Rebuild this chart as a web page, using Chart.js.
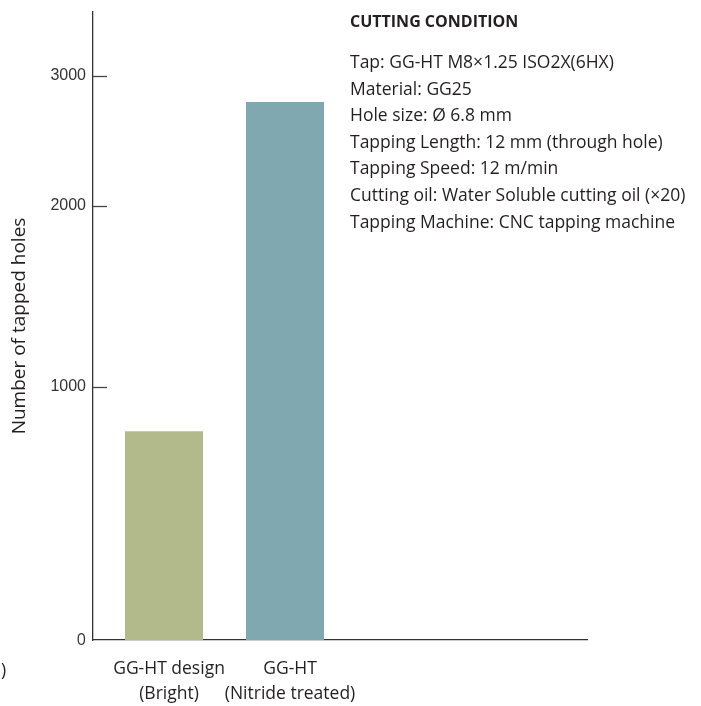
<!DOCTYPE html>
<html>
<head>
<meta charset="utf-8">
<script src="https://cdn.jsdelivr.net/npm/chart.js@4.4.1/dist/chart.umd.min.js"></script>
<style>
  html, body { margin: 0; padding: 0; background: #fff; }
  #wrap { position: relative; width: 701px; height: 706px; }
</style>
</head>
<body>
<div id="wrap"><canvas id="chart" width="701" height="706"></canvas></div>
<script>
// Tool life comparison — number of tapped holes per tap type
var categories = [['GG-HT design', '(Bright)'], ['GG-HT', '(Nitride treated)']];
var holes      = [800, 2770];
var barColors  = ['#b2ba8b', '#7fa8b1'];
var yTicks     = [0, 1000, 2000, 3000];
var yTitle     = 'Number of tapped holes';

var conditionTitle = 'CUTTING CONDITION';
var conditions = [
    'Tap: GG-HT M8\u00d71.25 ISO2X(6HX)',
    'Material: GG25',
    'Hole size: \u00d8 6.8 mm',
    'Tapping Length: 12 mm (through hole)',
    'Tapping Speed: 12 m/min',
    'Cutting oil: Water Soluble cutting oil (\u00d720)',
    'Tapping Machine: CNC tapping machine'
];

var TEXT = '#231f20';
var FONT = '"Open Sans", "Noto Sans", sans-serif';

// L'axe d'origine se tasse vers le haut : chaque pas de 1000 vaut ~0.72x le précédent
var TAU = 3000;

class CompressedScale extends Chart.LinearScale {
    _t(v) { return 1 - Math.exp(-v / TAU); }
    getPixelForValue(value) {
        var lo = this._t(this.min), hi = this._t(this.max);
        return this.getPixelForDecimal((this._t(value) - lo) / (hi - lo));
    }
    getValueForPixel(pixel) {
        var lo = this._t(this.min), hi = this._t(this.max);
        var t = lo + this.getDecimalForPixel(pixel) * (hi - lo);
        return -TAU * Math.log(1 - t);
    }
}
CompressedScale.id = 'compressed';
CompressedScale.defaults = Chart.LinearScale.defaults;
Chart.register(CompressedScale);

// Petits traits de graduation vers l'intérieur + bloc des conditions de coupe
var annotations = {
    id: 'annotations',
    afterDraw: function (chart) {
        var ctx  = chart.ctx;
        var area = chart.chartArea;
        var y    = chart.scales.y;
        ctx.save();

        ctx.strokeStyle = '#444';
        ctx.lineWidth = 1.3;
        y.ticks.forEach(function (t, i) {
            if (t.value === 0) return;
            var py = Math.round(y.getPixelForTick(i)) + 0.5;
            ctx.beginPath();
            ctx.moveTo(area.left, py);
            ctx.lineTo(area.left + 14, py);
            ctx.stroke();
        });

        ctx.fillStyle = TEXT;
        ctx.textAlign = 'left';
        ctx.textBaseline = 'alphabetic';
        var x = area.left + 257;
        ctx.font = 'bold 16px ' + FONT;
        ctx.fillText(conditionTitle, x, area.top + 15);
        ctx.font = '17.5px ' + FONT;
        conditions.forEach(function (line, i) {
            ctx.fillText(line, x, area.top + 56 + i * 26.6);
        });

        // fragment de libellé coupé au bord gauche
        ctx.fillText(')', 1, 676);
        ctx.restore();
    }
};

new Chart(document.getElementById('chart'), {
    type: 'bar',
    data: {
        datasets: [{
            data: holes.map(function (h, i) { return { x: i + 1, y: h }; }),
            backgroundColor: barColors,
            borderWidth: 0,
            categoryPercentage: 1,
            barPercentage: 0.645
        }]
    },
    options: {
        responsive: false,
        devicePixelRatio: 1,
        animation: false,
        layout: { padding: { top: 12, right: 114, bottom: 0, left: 0 } },
        plugins: {
            legend: { display: false },
            tooltip: { enabled: false }
        },
        scales: {
            x: {
                type: 'linear',
                offset: false,
                min: 0.413,
                max: 4.496,
                afterBuildTicks: function (s) {
                    s.ticks = categories.map(function (c, i) { return { value: i + 1 }; });
                },
                afterFit: function (s) {
                    s.height = 66;
                    s.paddingLeft = 0;
                    s.paddingRight = 0;
                },
                grid: { display: false, drawTicks: false, offset: false },
                border: { display: true, color: '#333', width: 1.3 },
                ticks: {
                    autoSkip: false,
                    maxRotation: 0,
                    padding: 16,
                    labelOffset: 5,
                    color: TEXT,
                    font: { family: FONT, size: 17.5, lineHeight: 1.45 },
                    callback: function (v) { return categories[v - 1]; }
                }
            },
            y: {
                type: 'compressed',
                min: 0,
                max: 3650,
                afterBuildTicks: function (s) {
                    s.ticks = yTicks.map(function (v) { return { value: v }; });
                },
                afterFit: function (s) {
                    s.width = 93;
                    s.paddingTop = 0;
                    s.paddingBottom = 0;
                },
                grid: { display: false, drawTicks: false },
                border: { display: true, color: '#333', width: 1.3 },
                ticks: {
                    padding: 7,
                    color: '#333',
                    font: function (c) {
                        return (c.tick && c.tick.value === 0)
                            ? { family: FONT, size: 16 }
                            : { family: '"Liberation Sans", Arial, sans-serif', size: 16 };
                    },
                    callback: function (v) { return String(v); }
                },
                title: {
                    display: true,
                    text: yTitle,
                    color: TEXT,
                    font: { family: FONT, size: 19 },
                    padding: { top: 8, bottom: 0 }
                }
            }
        }
    },
    plugins: [annotations]
});
</script>
</body>
</html>
